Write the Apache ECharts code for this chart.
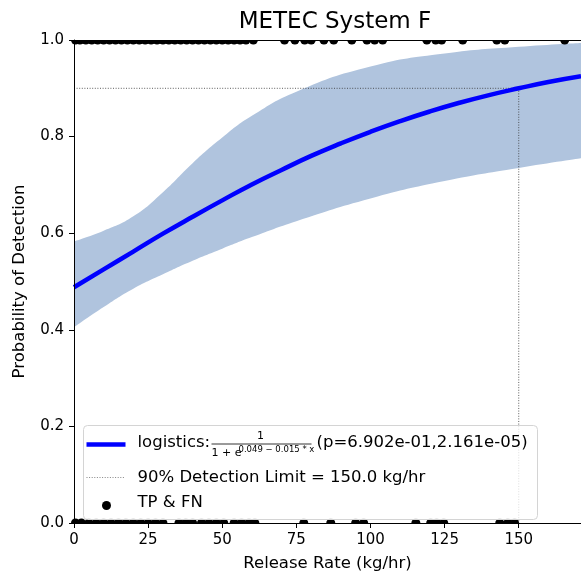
<!DOCTYPE html>
<html>
<head>
<meta charset="utf-8">
<script src="https://cdn.jsdelivr.net/npm/echarts@6/dist/echarts.min.js"></script>
<style>
  html, body { margin: 0; padding: 0; background: #fff; }
  #container { width: 581px; height: 577px; }
</style>
</head>
<body>
<div id="container"></div>
<script>
// fitted logistic curve
const fitX = [0, 10, 20, 30, 40, 50, 60, 70, 80, 90, 100, 110, 120, 130, 140, 150, 160, 171];
const fitP = [0.488, 0.525, 0.562, 0.599, 0.634, 0.668, 0.701, 0.731, 0.760, 0.786, 0.810, 0.832, 0.852, 0.870, 0.886, 0.900, 0.913, 0.925];

// envelope of the bootstrap curves
const bandX = [0, 10, 20, 30, 40, 50, 60, 75, 100, 125, 150, 171];
const bandLow = [0.405, 0.447, 0.485, 0.515, 0.543, 0.568, 0.592, 0.625, 0.672, 0.708, 0.735, 0.755];
const bandHigh = [0.583, 0.605, 0.635, 0.685, 0.745, 0.798, 0.843, 0.893, 0.945, 0.972, 0.986, 0.994];

// detections (y = 1) and misses (y = 0), release rates in kg/hr
const tpRates = [0.5, 2, 4, 6, 8, 10, 12, 14, 16, 18, 20, 22, 24, 26, 28, 30, 32, 34, 36, 38, 40,
    42, 44, 46, 48, 50, 52, 54, 56, 58, 60.5, 71, 74.5, 77.8, 80, 84.3, 87.6, 93.7, 98.8, 101.4,
    104.1, 119, 122, 124, 131.1, 142.6, 145.3, 165.5];
const fnRates = [0.5, 2.5, 5, 7.5, 10, 12.5, 15, 17.5, 20, 22.5, 25, 27.5, 30, 35.4, 37.7, 40,
    43, 45.5, 48, 50.5, 54, 56.5, 59, 61, 77.5, 86.6, 95, 97.7, 115.3, 120.3, 122.3, 124.7,
    143.6, 146.3, 148.6];

const limitRate = 150.0;
const limitProb = 0.9;
const xMax = 171;
const yTicks = [0, 0.2, 0.4, 0.6, 0.8, 1.0];

const FONT = 'DejaVu Sans';

let dom = document.getElementById('container');
let myChart = echarts.init(dom, null, { renderer: 'canvas' });

const dots = tpRates.map(x => [x, 1]).concat(fnRates.map(x => [x, 0]));

// legend drawn by hand because of the fraction in the first entry
const legendItems = [
    {
        type: 'rect',
        shape: { x: 0, y: 0, width: 454, height: 94, r: 4 },
        style: { fill: 'rgba(255,255,255,0.8)', stroke: '#d4d4d4', lineWidth: 1 }
    },
    { type: 'line', shape: { x1: 3, y1: 19, x2: 42, y2: 19 }, style: { stroke: '#0000ff', lineWidth: 4.5 } },
    { type: 'text', style: { x: 54, y: 17, text: 'logistics:', fontFamily: FONT, fontSize: 16.5, fill: '#000', verticalAlign: 'middle' } },
    { type: 'text', style: { x: 177, y: 11, text: '1', fontFamily: FONT, fontSize: 11, fill: '#000', align: 'center', verticalAlign: 'middle' } },
    { type: 'line', shape: { x1: 128, y1: 18.5, x2: 228, y2: 18.5 }, style: { stroke: '#000', lineWidth: 0.8 } },
    { type: 'text', style: { x: 128, y: 28, text: '1 + e', fontFamily: FONT, fontSize: 11, fill: '#000', verticalAlign: 'middle' } },
    { type: 'text', style: { x: 155, y: 24.5, text: '0.049 \u2212 0.015 * x', fontFamily: FONT, fontSize: 8.5, fill: '#000', verticalAlign: 'middle' } },
    { type: 'text', style: { x: 233, y: 17, text: '(p=6.902e-01,2.161e-05)', fontFamily: FONT, fontSize: 16.5, fill: '#000', verticalAlign: 'middle' } },
    { type: 'line', shape: { x1: 3, y1: 52, x2: 42, y2: 52 }, style: { stroke: '#666', lineWidth: 0.8, lineDash: [1, 1.6] } },
    { type: 'text', style: { x: 54, y: 52, text: '90% Detection Limit = 150.0 kg/hr', fontFamily: FONT, fontSize: 16.5, fill: '#000', verticalAlign: 'middle' } },
    { type: 'circle', shape: { cx: 23, cy: 80, r: 4.5 }, style: { fill: '#000' } },
    { type: 'text', style: { x: 54, y: 77, text: 'TP & FN', fontFamily: FONT, fontSize: 16.5, fill: '#000', verticalAlign: 'middle' } }
];
legendItems.forEach(el => { el.z = 100; });

let option = {
    animation: false,
    title: {
        text: 'METEC System F',
        left: 330,
        top: 6,
        textAlign: 'center',
        textStyle: { fontFamily: FONT, fontSize: 23, fontWeight: 'normal', color: '#000' }
    },
    grid: { left: 74, top: 40, right: 0, bottom: 50 },
    xAxis: [
        {
            type: 'value',
            min: 0,
            max: xMax,
            interval: 25,
            name: 'Release Rate (kg/hr)',
            nameLocation: 'middle',
            nameGap: 32,
            nameTextStyle: { fontFamily: FONT, fontSize: 16.5, color: '#000' },
            axisLine: { lineStyle: { color: '#000', width: 1 } },
            axisTick: { length: 5, lineStyle: { color: '#000' } },
            axisLabel: {
                margin: 10,
                fontFamily: FONT,
                fontSize: 15,
                color: '#000',
                showMaxLabel: false,
                formatter: v => (v % 25 === 0 ? String(v) : '')
            },
            splitLine: { show: false },
            z: 10
        },
        {
            type: 'value',
            position: 'top',
            min: 0,
            max: xMax,
            axisLine: { show: true, onZero: false, lineStyle: { color: '#000', width: 1 } },
            axisTick: { show: false },
            axisLabel: { show: false },
            splitLine: { show: false },
            z: 10
        }
    ],
    yAxis: {
        type: 'value',
        min: 0,
        max: 1,
        interval: 0.2,
        name: 'Probability of Detection',
        nameLocation: 'middle',
        nameGap: 46,
        nameTextStyle: { fontFamily: FONT, fontSize: 16.5, color: '#000' },
        axisLine: { show: true, lineStyle: { color: '#000', width: 1 } },
        axisTick: { show: true, length: 5, lineStyle: { color: '#000' } },
        axisLabel: {
            margin: 10,
            fontFamily: FONT,
            fontSize: 15,
            color: '#000',
            formatter: v => (yTicks.some(t => Math.abs(t - v) < 1e-9) ? v.toFixed(1) : '')
        },
        splitLine: { show: false },
        z: 10
    },
    series: [
        {
            name: 'band-high',
            type: 'line',
            smooth: true,
            symbol: 'none',
            lineStyle: { width: 0 },
            areaStyle: { color: '#b0c4de', opacity: 1, origin: 'start' },
            data: bandX.map((x, i) => [x, bandHigh[i]]),
            z: 1
        },
        {
            name: 'band-low',
            type: 'line',
            smooth: true,
            symbol: 'none',
            lineStyle: { width: 0 },
            areaStyle: { color: '#ffffff', opacity: 1, origin: 'start' },
            data: bandX.map((x, i) => [x, bandLow[i]]),
            z: 1
        },
        {
            name: 'limit',
            type: 'line',
            symbol: 'none',
            lineStyle: { color: '#333', width: 0.8, type: [1, 1.6] },
            data: [[0, limitProb], [limitRate, limitProb], [limitRate, 0]],
            z: 3
        },
        {
            name: 'logistics',
            type: 'line',
            smooth: true,
            symbol: 'none',
            lineStyle: { color: '#0000ff', width: 4.5 },
            data: fitX.map((x, i) => [x, fitP[i]]),
            z: 4
        },
        {
            name: 'TP & FN',
            type: 'custom',
            data: dots,
            renderItem: function (params, api) {
                const p = api.coord([api.value(0), api.value(1)]);
                const top = api.value(1) === 1;
                // only the half inside the axes shows, as in the clipped original
                return {
                    type: 'sector',
                    shape: {
                        cx: p[0], cy: p[1], r0: 0, r: 4.5,
                        startAngle: top ? 0 : Math.PI,
                        endAngle: top ? Math.PI : Math.PI * 2
                    },
                    style: { fill: '#000' }
                };
            },
            z: 5
        }
    ],
    graphic: [
        { type: 'group', left: 83, top: 425, z: 100, children: legendItems }
    ]
};
myChart.setOption(option);
</script>
</body>
</html>
